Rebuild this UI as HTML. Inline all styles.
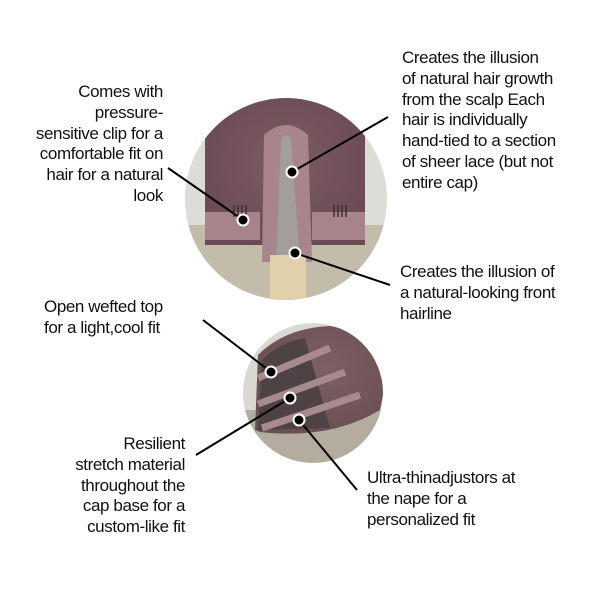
<!DOCTYPE html>
<html><head><meta charset="utf-8"><style>
body{margin:0;width:600px;height:600px;background:#fff;position:relative;overflow:hidden;font-family:"Liberation Sans",sans-serif;color:#111}
.t{position:absolute;font-size:17px;line-height:20.8px;letter-spacing:-0.4px;white-space:nowrap}
.r{text-align:right}
svg{position:absolute;left:0;top:0}
</style></head><body>
<svg width="600" height="600">
<defs>
<radialGradient id="g1" cx="50%" cy="45%" r="60%"><stop offset="0" stop-color="#7d5c64"/><stop offset="1" stop-color="#6a4a53"/></radialGradient>
<radialGradient id="g2" cx="55%" cy="40%" r="60%"><stop offset="0" stop-color="#7e5f66"/><stop offset="1" stop-color="#6a5054"/></radialGradient>
<clipPath id="c1"><circle cx="286" cy="199" r="101"/></clipPath>
<clipPath id="c2"><circle cx="313" cy="393" r="70"/></clipPath>
</defs>
<circle cx="286" cy="199" r="101" fill="#dcdcd9"/>
<g clip-path="url(#c1)">
<rect x="180" y="225" width="215" height="80" fill="#c4bcaa"/>
<path d="M205 245 L205 130 Q230 98 286 96 Q342 98 365 130 L365 245 Z" fill="url(#g1)"/>
<rect x="205" y="212" width="55" height="28" fill="#a7838b"/>
<rect x="312" y="212" width="53" height="28" fill="#a7838b"/>
<path d="M262 262 L264 135 Q286 115 308 135 L312 262 Z" fill="#a8848c"/>
<path d="M276 262 L281 140 Q286 130 291 140 L300 262 Z" fill="#a29e9b"/>
<rect x="270" y="255" width="36" height="50" fill="#e0d0ac"/>
<g stroke="#3a3032" stroke-width="1.5"><path d="M234 205v12M238 205v12M242 205v12M246 205v12M334 205v12M338 205v12M342 205v12M346 205v12"/></g>
</g>
<circle cx="313" cy="393" r="70" fill="#d9d8d4"/>
<g clip-path="url(#c2)">
<rect x="240" y="410" width="150" height="60" fill="#b3ad9f"/>
<path d="M255 430 L258 355 Q285 328 330 326 Q380 335 385 385 L380 410 Q330 440 260 432 Z" fill="url(#g2)"/>
<path d="M258 430 L262 360 Q280 342 305 338 L330 428 Z" fill="#4e4244"/>
<path d="M258 378 L330 348 M258 404 L345 372 M262 428 L360 395" stroke="#a78a8f" stroke-width="7" fill="none"/>
</g>
<g stroke="#000" stroke-width="2">
<line x1="168" y1="168" x2="243" y2="220"/>
<line x1="388" y1="117" x2="292" y2="172"/>
<line x1="295" y1="253" x2="390" y2="285"/>
<line x1="203" y1="320" x2="271" y2="372"/>
<line x1="196" y1="455" x2="290" y2="398"/>
<line x1="299" y1="420" x2="357" y2="490"/>
</g>
<g fill="#000" stroke="#fff" stroke-width="2">
<circle cx="243" cy="220" r="5.5"/><circle cx="292" cy="172" r="5.5"/><circle cx="295" cy="253" r="5.5"/>
<circle cx="271" cy="372" r="5.5"/><circle cx="290" cy="398" r="5.5"/><circle cx="299" cy="420" r="5.5"/>
</g>
</svg>
<div class="t r" style="right:437px;top:82px">Comes with<br>pressure-<br>sensitive clip for a<br>comfortable fit on<br>hair for a natural<br>look</div>
<div class="t" style="left:402px;top:48px">Creates the illusion<br>of natural hair growth<br>from the scalp Each<br>hair is individually<br>hand-tied to a section<br>of sheer lace (but not<br>entire cap)</div>
<div class="t" style="left:400px;top:262px">Creates the illusion of<br>a natural-looking front<br>hairline</div>
<div class="t" style="left:44px;top:297px">Open wefted top<br>for a light,cool fit</div>
<div class="t r" style="right:415px;top:434px">Resilient<br>stretch material<br>throughout the<br>cap base for a<br>custom-like fit</div>
<div class="t" style="left:367px;top:468px">Ultra-thinadjustors at<br>the nape for a<br>personalized fit</div>
</body></html>
